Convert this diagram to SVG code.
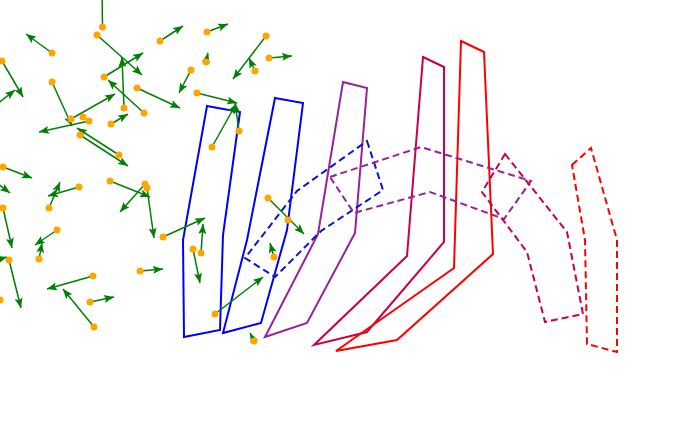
<svg xmlns="http://www.w3.org/2000/svg" width="697" height="445" viewBox="0 0 697 445">
<defs>
<marker id="ah" viewBox="0 0 10 8" refX="10" refY="4" markerWidth="10" markerHeight="8" markerUnits="userSpaceOnUse" orient="auto">
<path d="M0,0 L10,4 L0,8 L2,4 z" fill="#008000"/>
</marker>
<style>
.s{fill:none;stroke-width:2;stroke-linejoin:miter}
.d{fill:none;stroke-width:2;stroke-dasharray:7,4}
.a{stroke:#008000;stroke-width:1.5;marker-end:url(#ah)}
.p{fill:#ffa500}
</style>
</defs>
<rect width="697" height="445" fill="#ffffff"/>
<g id="outlines">
<polygon id="poly1" class="s" stroke="#0000ff" points="207,106 240,112 223,235 220,330 184,337 183,240"/>
<polygon id="poly2" class="s" stroke="#0000ff" points="275,98 303,103 287,230 261,323 223,333 247,240"/>
<polygon id="poly3" class="s" stroke="#992299" points="343,82 367,88 355,233 307,323 265,337 318,234"/>
<polygon id="poly4" class="s" stroke="#cc0044" points="423,57 444,67 444,242 367,332 314,345 407,256"/>
<polygon id="poly5" class="s" stroke="#ff0000" points="461,41 484,52 493,254 397,340 336,351 454,268"/>
<polygon id="dash1" class="d" stroke="#0a14cc" points="367,141 383,190 321,231 275,277 245,258 297,191"/>
<polygon id="dash2" class="d" stroke="#992299" points="330,177 421,147 531,181 504,219 430,192 354,213"/>
<polygon id="dash3" class="d" stroke="#cc0044" points="505,154 567,232 583,314 545,322 527,252 482,192"/>
<polygon id="dash4" class="d" stroke="#ff0000" points="572,165 591,148 617,240 617,352 587,344 585,240"/>
</g>
<g id="vectors">
<line class="a" x1="102.5" y1="27" x2="102" y2="-12"/>
<line class="a" x1="97" y1="35" x2="142" y2="75"/>
<line class="a" x1="52" y1="53" x2="26" y2="34"/>
<line class="a" x1="2" y1="61" x2="23" y2="97"/>
<line class="a" x1="-8" y1="108" x2="15" y2="90"/>
<line class="a" x1="52" y1="82" x2="72" y2="126"/>
<line class="a" x1="71" y1="119" x2="115" y2="94"/>
<line class="a" x1="124" y1="108" x2="122" y2="57"/>
<line class="a" x1="104" y1="77" x2="143" y2="53"/>
<line class="a" x1="137" y1="88" x2="180" y2="108"/>
<line class="a" x1="144" y1="113" x2="108" y2="80"/>
<line class="a" x1="111" y1="124" x2="128" y2="114"/>
<line class="a" x1="160" y1="41" x2="183" y2="26"/>
<line class="a" x1="207" y1="32" x2="228" y2="24"/>
<line class="a" x1="266" y1="36" x2="233" y2="79"/>
<line class="a" x1="255" y1="71" x2="249" y2="58"/>
<line class="a" x1="269" y1="58" x2="292" y2="56"/>
<line class="a" x1="206" y1="62" x2="208" y2="53"/>
<line class="a" x1="191" y1="70" x2="179" y2="93"/>
<line class="a" x1="197" y1="93" x2="237" y2="103"/>
<line class="a" x1="239" y1="131" x2="235" y2="103"/>
<line class="a" x1="212" y1="147" x2="236" y2="104"/>
<line class="a" x1="89" y1="121" x2="39" y2="132"/>
<line class="a" x1="80" y1="135" x2="128" y2="166"/>
<line class="a" x1="119" y1="155" x2="77" y2="128"/>
<line class="a" x1="3" y1="167" x2="32" y2="178"/>
<line class="a" x1="-10" y1="178" x2="10" y2="193"/>
<line class="a" x1="49" y1="208" x2="60" y2="182"/>
<line class="a" x1="79" y1="187" x2="48" y2="196"/>
<line class="a" x1="110" y1="181" x2="150" y2="197"/>
<line class="a" x1="145" y1="184" x2="120" y2="212"/>
<line class="a" x1="147" y1="188" x2="154" y2="238"/>
<line class="a" x1="3" y1="208" x2="12" y2="248"/>
<line class="a" x1="57" y1="230" x2="35" y2="245"/>
<line class="a" x1="39" y1="259" x2="42" y2="243"/>
<line class="a" x1="9" y1="260" x2="21" y2="308"/>
<line class="a" x1="-10" y1="262" x2="7" y2="257"/>
<line class="a" x1="93" y1="276" x2="47" y2="289"/>
<line class="a" x1="94" y1="327" x2="63" y2="289"/>
<line class="a" x1="90" y1="302" x2="114" y2="297"/>
<line class="a" x1="140" y1="271" x2="163" y2="269"/>
<line class="a" x1="163" y1="237" x2="205" y2="218"/>
<line class="a" x1="201" y1="253" x2="203" y2="224"/>
<line class="a" x1="193" y1="249" x2="200" y2="283"/>
<line class="a" x1="215" y1="314" x2="263" y2="277"/>
<line class="a" x1="254" y1="341" x2="250" y2="333"/>
<line class="a" x1="274" y1="257" x2="270" y2="243"/>
<line class="a" x1="268" y1="198" x2="304" y2="234"/>
</g>
<g id="points">
<circle class="p" cx="102.5" cy="27" r="3.5"/>
<circle class="p" cx="97" cy="35" r="3.5"/>
<circle class="p" cx="52" cy="53" r="3.5"/>
<circle class="p" cx="2" cy="61" r="3.5"/>
<circle class="p" cx="52" cy="82" r="3.5"/>
<circle class="p" cx="71" cy="119" r="3.5"/>
<circle class="p" cx="83" cy="117" r="3.5"/>
<circle class="p" cx="124" cy="108" r="3.5"/>
<circle class="p" cx="104" cy="77" r="3.5"/>
<circle class="p" cx="137" cy="88" r="3.5"/>
<circle class="p" cx="144" cy="113" r="3.5"/>
<circle class="p" cx="111" cy="124" r="3.5"/>
<circle class="p" cx="160" cy="41" r="3.5"/>
<circle class="p" cx="207" cy="32" r="3.5"/>
<circle class="p" cx="266" cy="36" r="3.5"/>
<circle class="p" cx="255" cy="71" r="3.5"/>
<circle class="p" cx="269" cy="58" r="3.5"/>
<circle class="p" cx="206" cy="62" r="3.5"/>
<circle class="p" cx="191" cy="70" r="3.5"/>
<circle class="p" cx="197" cy="93" r="3.5"/>
<circle class="p" cx="239" cy="131" r="3.5"/>
<circle class="p" cx="212" cy="147" r="3.5"/>
<circle class="p" cx="89" cy="121" r="3.5"/>
<circle class="p" cx="80" cy="135" r="3.5"/>
<circle class="p" cx="119" cy="155" r="3.5"/>
<circle class="p" cx="3" cy="167" r="3.5"/>
<circle class="p" cx="49" cy="208" r="3.5"/>
<circle class="p" cx="79" cy="187" r="3.5"/>
<circle class="p" cx="110" cy="181" r="3.5"/>
<circle class="p" cx="145" cy="184" r="3.5"/>
<circle class="p" cx="147" cy="188" r="3.5"/>
<circle class="p" cx="3" cy="208" r="3.5"/>
<circle class="p" cx="57" cy="230" r="3.5"/>
<circle class="p" cx="39" cy="259" r="3.5"/>
<circle class="p" cx="9" cy="260" r="3.5"/>
<circle class="p" cx="93" cy="276" r="3.5"/>
<circle class="p" cx="94" cy="327" r="3.5"/>
<circle class="p" cx="90" cy="302" r="3.5"/>
<circle class="p" cx="140" cy="271" r="3.5"/>
<circle class="p" cx="0" cy="300" r="3.5"/>
<circle class="p" cx="163" cy="237" r="3.5"/>
<circle class="p" cx="201" cy="253" r="3.5"/>
<circle class="p" cx="193" cy="249" r="3.5"/>
<circle class="p" cx="215" cy="314" r="3.5"/>
<circle class="p" cx="254" cy="341" r="3.5"/>
<circle class="p" cx="274" cy="257" r="3.5"/>
<circle class="p" cx="268" cy="198" r="3.5"/>
<circle class="p" cx="288" cy="220" r="3.5"/>
</g>
</svg>
